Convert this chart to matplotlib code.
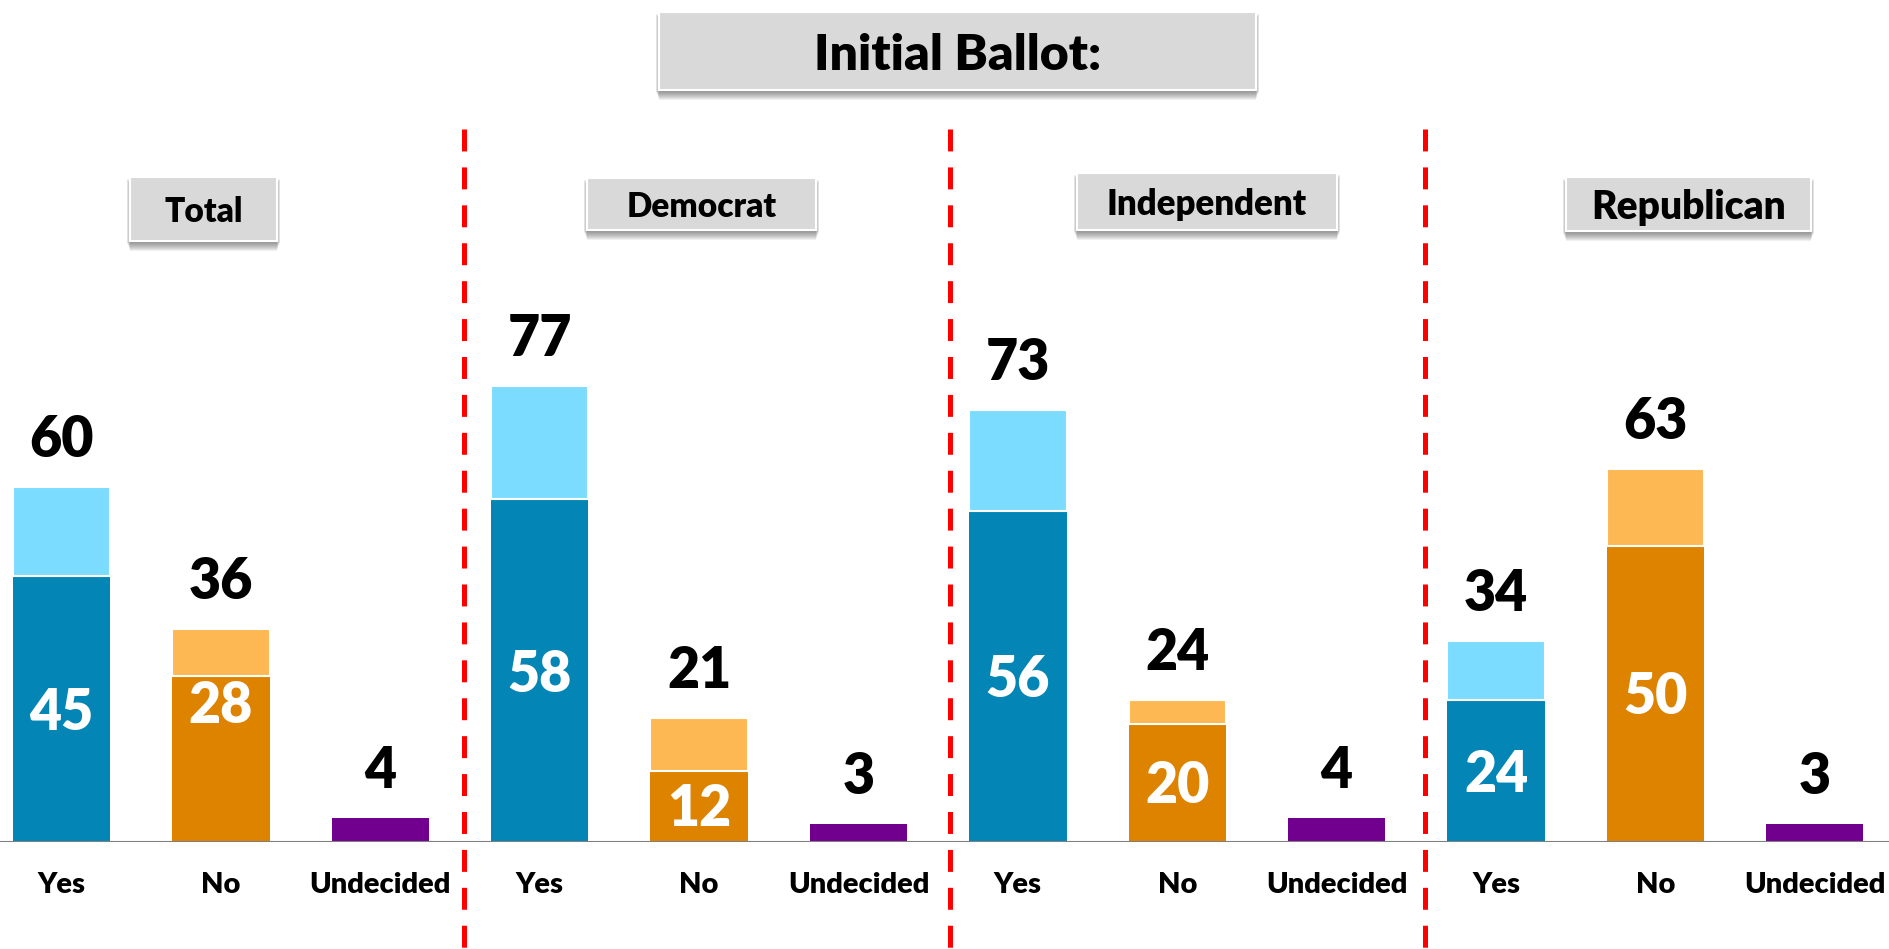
import matplotlib
matplotlib.use("Agg")
import matplotlib.pyplot as plt
from matplotlib.patches import Rectangle
from matplotlib.lines import Line2D

plt.rcParams['font.family'] = ['Lato', 'DejaVu Sans']
plt.rcParams['lines.scale_dashes'] = False

# ---- data ----
groups = ["Total", "Democrat", "Independent", "Republican"]
responses = ["Yes", "No", "Undecided"]
yes_total = [60, 77, 73, 34]
yes_strong = [45, 58, 56, 24]
no_total = [36, 21, 24, 63]
no_strong = [28, 12, 20, 50]
undecided = [4, 3, 4, 3]
title = "Initial Ballot:"

# ---- colours ----
c_yes_dark, c_yes_light = "#0386B6", "#7BDCFF"
c_no_dark, c_no_light = "#DE8300", "#FDB853"
c_und = "#71008F"
c_red = "#FF0000"
c_box = "#D9D9D9"
WEIGHT = "heavy"

W, H = 1889, 949
fig = plt.figure(figsize=(W / 100, H / 100), dpi=100)


def fx(x):
    return x / W


def fy(y_top):
    return 1 - y_top / H


base_px = 842
ax = fig.add_axes([0, fy(base_px), 1, base_px / H])
ax.set_xlim(-0.386, 11.465)
ax.set_ylim(0, 142.3)
ax.axis("off")

bw = 0.61
val_fs = 40
x = 0
for g in range(len(groups)):
    # Yes: strong segment plus lighter remainder
    ax.bar(x, yes_strong[g], bw, color=c_yes_dark, zorder=2)
    ax.bar(x, yes_total[g] - yes_strong[g], bw, bottom=yes_strong[g],
           color=c_yes_light, edgecolor="white", linewidth=1.5, zorder=2)
    # No
    ax.bar(x + 1, no_strong[g], bw, color=c_no_dark, zorder=2)
    ax.bar(x + 1, no_total[g] - no_strong[g], bw, bottom=no_strong[g],
           color=c_no_light, edgecolor="white", linewidth=1.5, zorder=2)
    # Undecided
    ax.bar(x + 2, undecided[g], bw, color=c_und, zorder=2)

    for xi, tot in zip((x, x + 1, x + 2), (yes_total[g], no_total[g], undecided[g])):
        ax.annotate(f"{tot}", (xi, tot), xytext=(0, 34), textcoords="offset points",
                    ha="center", va="center", fontsize=val_fs, fontweight=WEIGHT,
                    color="black")

    ax.annotate(f"{yes_strong[g]}", (x, yes_strong[g] / 2), xytext=(0, -3),
                textcoords="offset points", ha="center", va="center",
                fontsize=val_fs, fontweight=WEIGHT, color="white", zorder=3)
    if g == 0:
        ax.annotate(f"{no_strong[g]}", (x + 1, no_strong[g]), xytext=(0, -3),
                    textcoords="offset points", ha="center", va="top",
                    fontsize=val_fs, fontweight=WEIGHT, color="white", zorder=3)
    else:
        ax.annotate(f"{no_strong[g]}", (x + 1, no_strong[g] / 2), xytext=(0, -2),
                    textcoords="offset points", ha="center", va="center",
                    fontsize=val_fs, fontweight=WEIGHT, color="white", zorder=3)

    for k, r in enumerate(responses):
        ax.annotate(r, (x + k, 0), xytext=(0, -31), textcoords="offset points",
                    ha="center", va="center", fontsize=21, fontweight=WEIGHT,
                    color="black", annotation_clip=False)
    x += 3

# baseline
ax.axhline(0, color="#7F7F7F", linewidth=1.5, zorder=3)

# dashed separators between groups
for sx in (2.525, 5.574, 8.554):
    xf = ax.transData.transform((sx, 0))[0] / W
    fig.add_artist(Line2D([xf, xf], [fy(129), fy(949)], color=c_red, linewidth=3.6,
                          dashes=(15.8, 11.5), transform=fig.transFigure))


def shadow_box(x0, y0, x1, y1, text, fs, dy):
    # soft shadow under the box
    for i in range(9):
        off = 2 + i
        fig.add_artist(Rectangle((fx(x0 - 3 + i * 0.4), fy(y1 + off)),
                                 fx(x1 - x0 + 6 - i * 0.8), (y1 - y0) / H,
                                 transform=fig.transFigure, facecolor="#404040",
                                 edgecolor="none", alpha=0.08, zorder=4))
    fig.add_artist(Rectangle((fx(x0), fy(y1)), fx(x1 - x0), (y1 - y0) / H,
                             transform=fig.transFigure, facecolor=c_box,
                             edgecolor="white", linewidth=1.5, zorder=5))
    fig.text(fx((x0 + x1) / 2), fy((y0 + y1) / 2 + dy), text, ha="center", va="center",
             fontsize=fs, fontweight=WEIGHT, color="black", zorder=6)


shadow_box(659, 12, 1256, 90, title, 36, 5)
box_px = [(130, 177, 277, 241), (587, 178, 816, 230),
          (1077, 173, 1337, 230), (1566, 177, 1811, 231)]
box_fs = [24, 24, 25, 28]
for (x0, y0, x1, y1), name, fs in zip(box_px, groups, box_fs):
    shadow_box(x0, y0, x1, y1, name, fs, 3)

fig.savefig("out.png", dpi=100)
